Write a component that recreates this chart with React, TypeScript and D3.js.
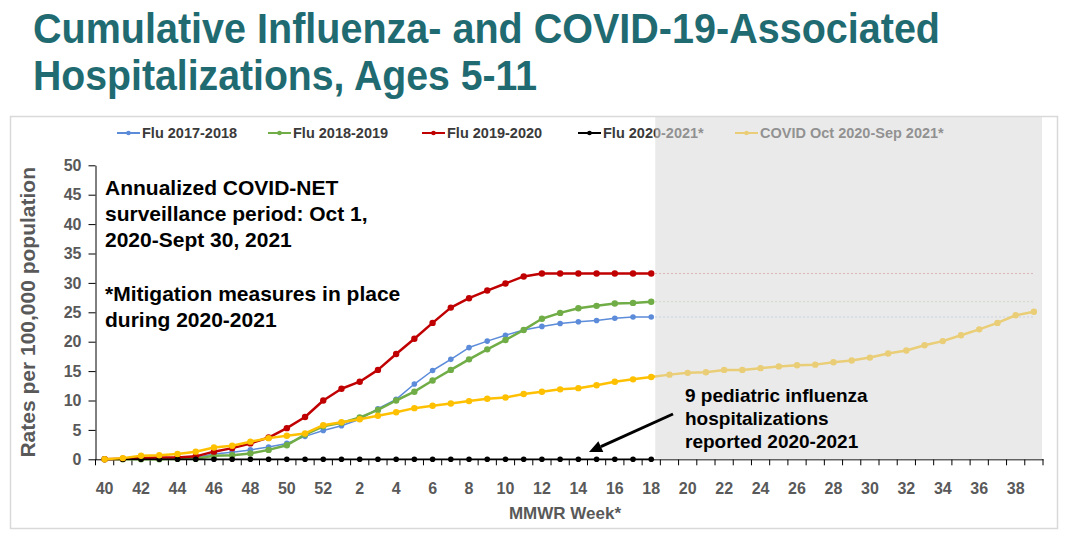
import * as d3 from "d3";
import { useEffect, useRef } from "react";

// MMWR weeks, Oct (wk 40) through Sep (wk 39)
const weeks = [
	"40", "41", "42", "43", "44", "45", "46", "47", "48", "49", "50", "51", "52",
	"1", "2", "3", "4", "5", "6", "7", "8", "9", "10", "11", "12", "13", "14",
	"15", "16", "17", "18", "19", "20", "21", "22", "23", "24", "25", "26", "27",
	"28", "29", "30", "31", "32", "33", "34", "35", "36", "37", "38", "39",
];

// flu seasons run wk 40 -> wk 18
const flu1718 = [
	0, 0, 0.1, 0.1, 0.2, 0.3, 0.9, 1.2, 1.6, 2.1, 2.7, 3.9, 4.9, 5.7, 6.8, 8.6,
	10.2, 12.8, 15.1, 17.0, 19.0, 20.1, 21.1, 22.0, 22.6, 23.1, 23.4, 23.6, 24.0,
	24.2, 24.2,
];
const flu1819 = [
	0, 0, 0, 0, 0.1, 0.1, 0.6, 0.7, 1.0, 1.6, 2.4, 4.2, 5.6, 6.2, 7.1, 8.4, 10.0,
	11.5, 13.4, 15.2, 17.0, 18.7, 20.3, 22.0, 23.9, 24.9, 25.7, 26.1, 26.5, 26.6,
	26.8,
];
const flu1920 = [
	0, 0.1, 0.2, 0.3, 0.3, 0.5, 1.3, 1.9, 2.7, 3.7, 5.3, 7.2, 10.0, 12.0, 13.2,
	15.2, 17.9, 20.5, 23.2, 25.8, 27.4, 28.7, 29.9, 31.1, 31.6, 31.6, 31.6, 31.6,
	31.6, 31.6, 31.6,
];
const flu2021 = [
	0, 0, 0, 0, 0, 0, 0, 0, 0, 0, 0, 0, 0, 0, 0, 0, 0, 0, 0, 0, 0, 0, 0, 0, 0, 0,
	0, 0, 0, 0, 0,
];
// COVID covers the full year wk 40 -> wk 39
const covid = [
	0, 0.2, 0.6, 0.7, 0.9, 1.3, 2.0, 2.3, 3.0, 3.6, 4.0, 4.4, 5.8, 6.3, 6.8, 7.4,
	8.0, 8.7, 9.1, 9.5, 9.9, 10.3, 10.5, 11.1, 11.5, 11.9, 12.1, 12.6, 13.2, 13.6,
	14.0, 14.4, 14.7, 14.8, 15.2, 15.2, 15.5, 15.8, 16.0, 16.1, 16.5, 16.8, 17.3,
	18.0, 18.5, 19.4, 20.1, 21.1, 22.1, 23.2, 24.5, 25.1,
];

const seriesNames = [
	"Flu 2017-2018",
	"Flu 2018-2019",
	"Flu 2019-2020",
	"Flu 2020-2021*",
	"COVID Oct 2020-Sep 2021*",
];
const seriesColors = ["#5b8bd9", "#70ad47", "#c00000", "#000000", "#ffc000"];
const seriesWidths = [1.5, 2.5, 2.5, 1.5, 2.5];

const yTicks = [0, 5, 10, 15, 20, 25, 30, 35, 40, 45, 50];
const xTickLabels = weeks.filter((_, i) => i % 2 === 0);

const titleLines = [
	"Cumulative Influenza- and COVID-19-Associated",
	"Hospitalizations, Ages 5-11",
];
const noteTop = [
	"Annualized COVID-NET",
	"surveillance period: Oct 1,",
	"2020-Sept 30, 2021",
];
const noteMid = ["*Mitigation measures in place", "during 2020-2021"];
const noteFlu = [
	"9 pediatric influenza",
	"hospitalizations",
	"reported 2020-2021",
];

export default function App() {
	const svgRef = useRef<SVGSVGElement>(null);

	useEffect(() => {
		const svg = d3.select(svgRef.current);
		if (!svg.node()) return;
		svg.selectAll("*").remove();

		const font = "'Liberation Sans', Arial, sans-serif";
		const grey = "#595959";

		const x = d3.scaleBand<string>().domain(weeks).range([95.5, 1043]);
		const cx = (w: string) => (x(w) ?? 0) + x.bandwidth() / 2;
		const y = d3.scaleLinear().domain([0, 50]).range([459.3, 165.3]);
		const [x0, x1] = x.range();

		// Title
		titleLines.forEach((t, i) => {
			svg
				.append("text")
				.attr("x", 33)
				.attr("y", 43 + i * 47)
				.attr("textLength", i === 0 ? 907 : 504)
				.attr("lengthAdjust", "spacingAndGlyphs")
				.attr("fill", "#1f6b71")
				.style("font-family", "'Liberation Sans Narrow', 'Liberation Sans', Arial, sans-serif")
				.style("font-weight", "700")
				.style("font-size", "43px")
				.text(t);
		});

		// chart frame
		svg
			.append("rect")
			.attr("x", 10.5)
			.attr("y", 116.5)
			.attr("width", 1047)
			.attr("height", 412)
			.attr("fill", "#fff")
			.attr("stroke", "#d9d9d9")
			.attr("stroke-width", 1.5);

		// Legend
		const legendX = [117, 268, 422, 578, 735];
		seriesNames.forEach((name, i) => {
			const g = svg.append("g").attr("transform", `translate(${legendX[i]},133)`);
			g.append("line")
				.attr("x1", 0)
				.attr("x2", 23)
				.attr("stroke", seriesColors[i])
				.attr("stroke-width", 2);
			g.append("circle").attr("cx", 11.5).attr("r", 2.3).attr("fill", seriesColors[i]);
			g.append("text")
				.attr("x", 25)
				.attr("dy", "0.35em")
				.attr("fill", "#3a3a3a")
				.style("font-family", font)
				.style("font-weight", "700")
				.style("font-size", "14.5px")
				.text(name);
		});

		// Y axis
		const yAxis = svg
			.append("g")
			.attr("transform", `translate(${x0},0)`)
			.call(d3.axisLeft(y).tickValues(yTicks).tickSize(7).tickPadding(7).tickSizeOuter(0));
		yAxis.select(".domain").attr("stroke", "#000");
		yAxis.selectAll(".tick line").attr("stroke", "#000");
		yAxis
			.selectAll(".tick text")
			.attr("fill", grey)
			.style("font-family", font)
			.style("font-weight", "700")
			.style("font-size", "16px");

		svg
			.append("text")
			.attr("transform", `translate(35,${(y(0) + y(50)) / 2}) rotate(-90)`)
			.attr("text-anchor", "middle")
			.attr("fill", grey)
			.style("font-family", font)
			.style("font-weight", "700")
			.style("font-size", "21px")
			.text("Rates per 100,000 population");

		// X axis: labels at every other week, ticks between categories
		const xAxis = svg
			.append("g")
			.attr("transform", `translate(0,${y(0)})`)
			.call(d3.axisBottom(x).tickValues(xTickLabels).tickSize(0).tickPadding(23.5));
		xAxis.select(".domain").attr("stroke", "#000");
		xAxis
			.selectAll(".tick text")
			.attr("fill", grey)
			.style("font-family", font)
			.style("font-weight", "700")
			.style("font-size", "16px");
		xAxis
			.selectAll("line.between")
			.data(d3.range(weeks.length + 1))
			.join("line")
			.attr("class", "between")
			.attr("x1", (i) => x0 + i * x.step())
			.attr("x2", (i) => x0 + i * x.step())
			.attr("y1", 0)
			.attr("y2", 6)
			.attr("stroke", "#000");

		svg
			.append("text")
			.attr("x", 565)
			.attr("y", 519)
			.attr("text-anchor", "middle")
			.attr("fill", grey)
			.style("font-family", font)
			.style("font-weight", "700")
			.style("font-size", "17px")
			.text("MMWR Week*");

		// Series
		const allSeries = [flu1718, flu1819, flu1920, flu2021, covid];
		const line = d3
			.line<number>()
			.x((_, i) => cx(weeks[i]))
			.y((d) => y(d));

		// dotted carry-forward of the final flu values
		[flu1718, flu1819, flu1920].forEach((s, i) => {
			const last = s[s.length - 1];
			svg
				.append("line")
				.attr("x1", cx(weeks[s.length - 1]))
				.attr("x2", cx(weeks[weeks.length - 1]))
				.attr("y1", y(last))
				.attr("y2", y(last))
				.attr("stroke", seriesColors[i])
				.attr("stroke-width", 1)
				.attr("stroke-dasharray", "1.5,2.5")
				.attr("opacity", 0.6);
		});

		allSeries.forEach((s, i) => {
			const g = svg.append("g");
			g.append("path")
				.attr("d", line(s))
				.attr("fill", "none")
				.attr("stroke", seriesColors[i])
				.attr("stroke-width", seriesWidths[i])
				.attr("stroke-linejoin", "round");
			g.selectAll("circle")
				.data(s)
				.join("circle")
				.attr("cx", (_, j) => cx(weeks[j]))
				.attr("cy", (d) => y(d))
				.attr("r", i === 0 || i === 3 ? 2.8 : 3.2)
				.attr("fill", seriesColors[i]);
		});

		// shaded (projected) part of the year
		svg
			.append("rect")
			.attr("x", cx("18") + 4)
			.attr("y", 117)
			.attr("width", x1 - 1 - (cx("18") + 4))
			.attr("height", y(0) - 117)
			.attr("fill", "#d9d9d9")
			.attr("opacity", 0.55);

		// Notes
		const note = (lines: string[], px: number, py: number, lh: number, size: number) => {
			lines.forEach((t, i) => {
				svg
					.append("text")
					.attr("x", px)
					.attr("y", py + i * lh)
					.attr("fill", "#000")
					.style("font-family", font)
					.style("font-weight", "700")
					.style("font-size", `${size}px`)
					.text(t);
			});
		};
		note(noteTop, 105, 195, 26, 21);
		note(noteMid, 105, 301, 26, 21);
		note(noteFlu, 685, 402, 23, 19);

		// arrow to the 2020-2021 flu series
		const ax1 = 673;
		const ay1 = 414;
		const ax2 = 589;
		const ay2 = 452;
		const ang = Math.atan2(ay2 - ay1, ax2 - ax1);
		const hl = 13;
		const hw = 6;
		const bx = ax2 - hl * Math.cos(ang);
		const by = ay2 - hl * Math.sin(ang);
		svg
			.append("line")
			.attr("x1", ax1)
			.attr("y1", ay1)
			.attr("x2", bx)
			.attr("y2", by)
			.attr("stroke", "#000")
			.attr("stroke-width", 3);
		svg
			.append("path")
			.attr(
				"d",
				`M${ax2},${ay2}L${bx + hw * Math.sin(ang)},${by - hw * Math.cos(ang)}L${bx - hw * Math.sin(ang)},${by + hw * Math.cos(ang)}Z`,
			)
			.attr("fill", "#000");
	}, []);

	return (
		<svg
			ref={svgRef}
			width={1069}
			height={540}
			style={{ position: "absolute", left: 0, top: 0, background: "#fff" }}
		/>
	);
}
